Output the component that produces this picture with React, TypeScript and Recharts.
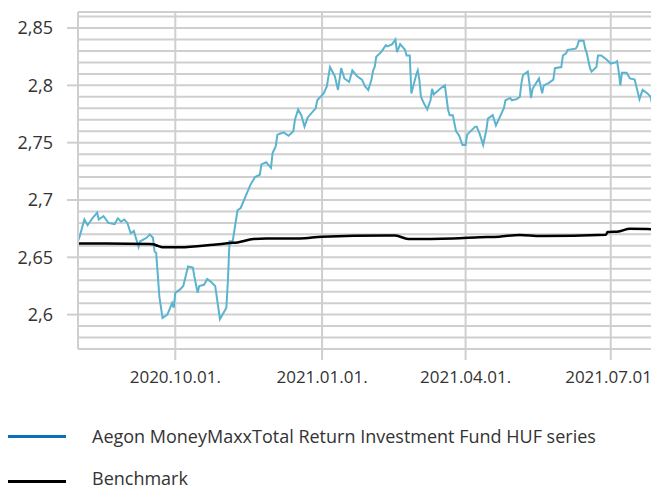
import React from 'react';
import { LineChart, Line, XAxis, YAxis, ReferenceLine } from 'recharts';

// Aegon MoneyMaxx fund price
const fundDates = [
  '2020-08-01', '2020-08-02', '2020-08-05', '2020-08-07', '2020-08-10', '2020-08-13', '2020-08-14', '2020-08-17',
  '2020-08-20', '2020-08-24', '2020-08-26', '2020-08-28', '2020-08-30', '2020-09-01', '2020-09-03', '2020-09-05',
  '2020-09-08', '2020-09-09', '2020-09-13', '2020-09-15', '2020-09-17', '2020-09-18', '2020-09-19', '2020-09-21',
  '2020-09-23', '2020-09-26', '2020-09-29', '2020-09-30', '2020-10-01', '2020-10-04', '2020-10-06', '2020-10-09',
  '2020-10-12', '2020-10-13', '2020-10-15', '2020-10-16', '2020-10-19', '2020-10-21', '2020-10-23', '2020-10-26',
  '2020-10-29', '2020-11-02', '2020-11-03', '2020-11-04', '2020-11-06', '2020-11-09', '2020-11-11', '2020-11-17',
  '2020-11-20', '2020-11-23', '2020-11-24', '2020-11-27', '2020-11-30', '2020-12-01', '2020-12-03', '2020-12-04',
  '2020-12-06', '2020-12-08', '2020-12-11', '2020-12-14', '2020-12-15', '2020-12-17', '2020-12-19', '2020-12-21',
  '2020-12-23', '2020-12-28', '2020-12-29', '2021-01-02', '2021-01-04', '2021-01-06', '2021-01-09', '2021-01-11',
  '2021-01-13', '2021-01-15', '2021-01-18', '2021-01-20', '2021-01-23', '2021-01-26', '2021-01-28', '2021-01-30',
  '2021-02-01', '2021-02-02', '2021-02-03', '2021-02-04', '2021-02-07', '2021-02-08', '2021-02-10', '2021-02-11',
  '2021-02-14', '2021-02-16', '2021-02-17', '2021-02-19', '2021-02-22', '2021-02-23', '2021-02-25', '2021-02-26',
  '2021-03-01', '2021-03-02', '2021-03-03', '2021-03-04', '2021-03-06', '2021-03-08', '2021-03-10', '2021-03-11',
  '2021-03-12', '2021-03-16', '2021-03-19', '2021-03-21', '2021-03-22', '2021-03-24', '2021-03-26', '2021-03-28',
  '2021-03-30', '2021-04-01', '2021-04-02', '2021-04-07', '2021-04-08', '2021-04-10', '2021-04-12', '2021-04-14',
  '2021-04-15', '2021-04-18', '2021-04-20', '2021-04-22', '2021-04-25', '2021-04-26', '2021-04-29', '2021-04-30',
  '2021-05-03', '2021-05-05', '2021-05-06', '2021-05-07', '2021-05-10', '2021-05-11', '2021-05-12', '2021-05-13',
  '2021-05-17', '2021-05-19', '2021-05-20', '2021-05-23', '2021-05-26', '2021-05-27', '2021-05-31', '2021-06-01',
  '2021-06-03', '2021-06-04', '2021-06-09', '2021-06-10', '2021-06-11', '2021-06-14', '2021-06-15', '2021-06-16',
  '2021-06-18', '2021-06-19', '2021-06-22', '2021-06-23', '2021-06-25', '2021-06-28', '2021-07-01', '2021-07-04',
  '2021-07-05', '2021-07-06', '2021-07-07', '2021-07-08', '2021-07-11', '2021-07-13', '2021-07-16', '2021-07-19',
  '2021-07-21', '2021-07-24', '2021-07-26', '2021-07-27', '2021-07-28', '2021-07-29', '2021-07-30',
];
const fundValues = [
  2.664, 2.668, 2.683, 2.678, 2.684, 2.689, 2.683, 2.686,
  2.680, 2.679, 2.684, 2.681, 2.683, 2.680, 2.671, 2.673,
  2.659, 2.664, 2.667, 2.670, 2.667, 2.655, 2.654, 2.616,
  2.597, 2.600, 2.610, 2.606, 2.619, 2.622, 2.625, 2.642,
  2.641, 2.633, 2.619, 2.625, 2.626, 2.631, 2.629, 2.625,
  2.596, 2.606, 2.630, 2.664, 2.664, 2.691, 2.693, 2.713,
  2.720, 2.722, 2.731, 2.733, 2.728, 2.741, 2.747, 2.757,
  2.758, 2.759, 2.756, 2.760, 2.770, 2.779, 2.774, 2.764,
  2.772, 2.780, 2.787, 2.793, 2.799, 2.816, 2.808, 2.796,
  2.815, 2.806, 2.803, 2.813, 2.808, 2.805, 2.799, 2.796,
  2.805, 2.813, 2.816, 2.825, 2.829, 2.831, 2.835, 2.834,
  2.836, 2.840, 2.829, 2.836, 2.831, 2.826, 2.826, 2.793,
  2.809, 2.813, 2.805, 2.790, 2.784, 2.779, 2.787, 2.797,
  2.792, 2.797, 2.800, 2.779, 2.774, 2.774, 2.760, 2.756,
  2.748, 2.748, 2.757, 2.764, 2.764, 2.757, 2.748, 2.761,
  2.771, 2.774, 2.765, 2.771, 2.780, 2.787, 2.789, 2.787,
  2.788, 2.790, 2.802, 2.809, 2.812, 2.802, 2.789, 2.797,
  2.806, 2.793, 2.800, 2.802, 2.805, 2.815, 2.816, 2.826,
  2.828, 2.831, 2.832, 2.834, 2.839, 2.839, 2.832, 2.828,
  2.815, 2.812, 2.816, 2.826, 2.826, 2.823, 2.819, 2.820,
  2.821, 2.812, 2.800, 2.811, 2.811, 2.806, 2.805, 2.788,
  2.796, 2.793, 2.790, 2.783, 2.789, 2.800, 2.799,
];

// Benchmark
const benchDates = [
  '2020-08-01', '2020-09-15', '2020-09-17', '2020-09-20', '2020-09-23', '2020-10-04', '2020-10-25', '2020-11-04',
  '2020-11-09', '2020-11-19', '2020-11-27', '2020-12-18', '2021-01-01', '2021-02-10', '2021-02-16', '2021-02-24',
  '2021-03-24', '2021-04-10', '2021-04-22', '2021-05-05', '2021-05-18', '2021-06-28', '2021-06-29', '2021-07-06',
  '2021-07-13', '2021-07-24', '2021-07-30',
];
const benchValues = [
  2.662, 2.6617, 2.6614, 2.66, 2.6587, 2.6587, 2.661, 2.6624,
  2.663, 2.666, 2.6665, 2.6665, 2.668, 2.669, 2.669, 2.666,
  2.6665, 2.6675, 2.668, 2.6695, 2.6685, 2.6697, 2.672, 2.6726,
  2.675, 2.6747, 2.674,
];

const xStart = '2020-08-01';
const xEnd = '2021-07-30';
const xTickDates = ['2020-10-01', '2021-01-01', '2021-04-01', '2021-07-01'];
const yTicks = [2.6, 2.65, 2.7, 2.75, 2.8, 2.85];
const yGrid = [2.58, 2.59, 2.6, 2.61, 2.62, 2.63, 2.64, 2.65, 2.66, 2.67, 2.68, 2.69, 2.7, 2.71, 2.72, 2.73, 2.74, 2.75, 2.76, 2.77, 2.78, 2.79, 2.8, 2.81, 2.82, 2.83, 2.84, 2.85, 2.86];
const yMin = 2.57;
const yMax = 2.864;

const toTime = (s: string) => Date.parse(s + 'T00:00:00Z');

const rowMap = new Map<number, { t: number; fund?: number; bench?: number }>();
fundDates.forEach((d, i) => {
  const t = toTime(d);
  rowMap.set(t, { ...(rowMap.get(t) || { t }), fund: fundValues[i] });
});
benchDates.forEach((d, i) => {
  const t = toTime(d);
  rowMap.set(t, { ...(rowMap.get(t) || { t }), bench: benchValues[i] });
});
const rows = Array.from(rowMap.values()).sort((a, b) => a.t - b.t);

const pad = (n: number) => String(n).padStart(2, '0');
const fmtDate = (t: number) => {
  const d = new Date(t);
  return `${d.getUTCFullYear()}.${pad(d.getUTCMonth() + 1)}.${pad(d.getUTCDate())}.`;
};
const fmtNum = (v: number) => String(Number(v.toFixed(2))).replace('.', ',');

const GRID = '#cfcfcf';
const TEXT = '#333333';
const FONT = '"Open Sans", sans-serif';

const LegendRow = ({ top, textTop, color, label }: { top: number; textTop: number; color: string; label: string }) => (
  <>
    <div style={{ position: 'absolute', left: 0, top: top - 1.5, width: 58, height: 3, background: color }} />
    <div style={{ position: 'absolute', left: 84, top: textTop - 8, height: 16, lineHeight: '16px', fontSize: 18, color: TEXT, whiteSpace: 'nowrap' }}>
      {label}
    </div>
  </>
);

export default function App() {
  const start = toTime(xStart);
  const end = toTime(xEnd);
  const tickTimes = xTickDates.map(toTime);
  return (
    <div style={{ position: 'relative', width: 651, height: 481, fontFamily: FONT }}>
      <LineChart width={651} height={390} data={rows} margin={{ top: 4, right: 2, bottom: 9, left: 0 }}>
        {yGrid.map((v) => (
          <ReferenceLine key={v} y={v} stroke={GRID} strokeWidth={2} />
        ))}
        <ReferenceLine y={yMax} stroke={GRID} strokeWidth={2} />
        {tickTimes.map((t) => (
          <ReferenceLine key={t} x={t} stroke={GRID} strokeWidth={2} />
        ))}
        <XAxis
          dataKey="t"
          type="number"
          domain={[start, end]}
          allowDataOverflow
          ticks={tickTimes}
          tickFormatter={fmtDate}
          tickSize={11}
          tickMargin={11}
          height={40}
          axisLine={{ stroke: GRID, strokeWidth: 2 }}
          tickLine={{ stroke: GRID, strokeWidth: 2 }}
          tick={{ fill: TEXT, fontSize: 17, fontFamily: FONT }}
        />
        <YAxis
          type="number"
          domain={[yMin, yMax]}
          allowDataOverflow
          ticks={yTicks}
          tickFormatter={fmtNum}
          tickSize={11}
          tickMargin={14}
          width={70}
          axisLine={{ stroke: GRID, strokeWidth: 2 }}
          tickLine={{ stroke: GRID, strokeWidth: 2 }}
          tick={{ fill: TEXT, fontSize: 18, fontFamily: FONT }}
        />
        <Line
          dataKey="fund"
          type="linear"
          stroke="#5bb4cf"
          strokeWidth={2}
          dot={false}
          connectNulls
          isAnimationActive={false}
        />
        <Line
          dataKey="bench"
          type="monotone"
          stroke="#000000"
          strokeWidth={2.5}
          dot={false}
          connectNulls
          isAnimationActive={false}
        />
        <ReferenceLine x={end} stroke={GRID} strokeWidth={2} />
      </LineChart>
      <LegendRow top={428.7} textTop={428} color="#0b6fb8" label="Aegon MoneyMaxxTotal Return Investment Fund HUF series" />
      <LegendRow top={473} textTop={470} color="#000000" label="Benchmark" />
    </div>
  );
}
